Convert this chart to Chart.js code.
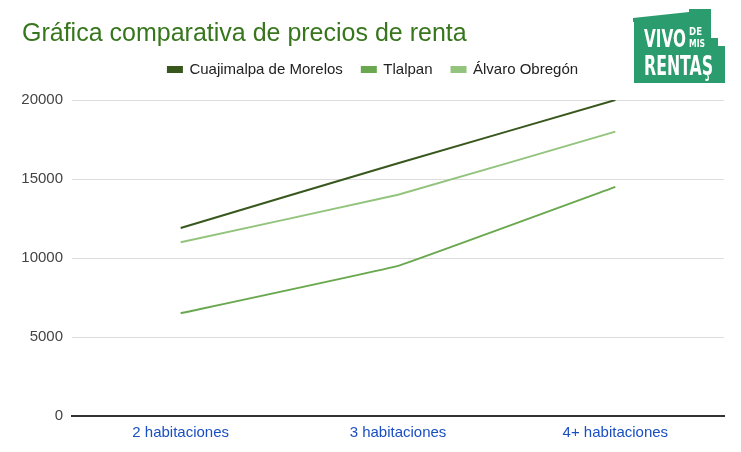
<!DOCTYPE html>
<html lang="es">
<head>
<meta charset="UTF-8">
<title>Gráfica comparativa de precios de renta</title>
<script src="https://cdn.jsdelivr.net/npm/chart.js@4.4.0/dist/chart.umd.min.js"></script>
<style>
  html, body { margin: 0; padding: 0; background: #fff; }
  #wrap { position: relative; width: 741px; height: 452px; }
  #logo { position: absolute; left: 628px; top: 0; }
</style>
</head>
<body>
<div id="wrap">
  <canvas id="grafica" width="741" height="452"></canvas>
  <!-- logo de la esquina -->
  <svg id="logo" width="113" height="95" viewBox="628 0 113 95">
    <path d="M633 18 L689 12 L689 9 L711 9 L711 38 L718 38 L718 46 L725 46 L725 83 L634 83 L634 22 L633 22 Z" fill="#2a9c6e"/>
    <g fill="#fff" font-family="Liberation Sans Narrow, DejaVu Sans Condensed, sans-serif" font-weight="bold">
      <text x="644" y="47" font-size="25" textLength="42" lengthAdjust="spacingAndGlyphs">VIVO</text>
      <text x="689" y="35" font-size="10" textLength="13" lengthAdjust="spacingAndGlyphs">DE</text>
      <text x="689" y="47" font-size="10" textLength="16" lengthAdjust="spacingAndGlyphs">MIS</text>
      <text x="644" y="75" font-size="27" textLength="69" lengthAdjust="spacingAndGlyphs">RENTAŞ</text>
    </g>
  </svg>
</div>
<script>
// datos
const categorias = ['2 habitaciones', '3 habitaciones', '4+ habitaciones'];
const cuajimalpa = [11900, 16000, 20000];
const tlalpan = [6500, 9500, 14500];
const alvaroObregon = [11000, 14000, 18000];
const ticksY = [0, 5000, 10000, 15000, 20000];

const fuente = 'Liberation Sans, Arial, sans-serif';

// deja algo de aire debajo de la leyenda
const espacioLeyenda = {
  id: 'espacioLeyenda',
  afterInit(chart) {
    const fitOriginal = chart.legend.fit;
    chart.legend.fit = function () {
      fitOriginal.call(this);
      this.height += 13;
    };
  }
};

const ctx = document.getElementById('grafica').getContext('2d');
const chart = new Chart(ctx, {
  type: 'line',
  data: {
    labels: categorias,
    datasets: [
      { label: 'Cuajimalpa de Morelos', data: cuajimalpa, borderColor: '#38571d', backgroundColor: '#38571d', borderWidth: 2, pointRadius: 0, tension: 0.05 },
      { label: 'Tlalpan', data: tlalpan, borderColor: '#6aa84f', backgroundColor: '#6aa84f', borderWidth: 2, pointRadius: 0, tension: 0.05 },
      { label: 'Álvaro Obregón', data: alvaroObregon, borderColor: '#93c47d', backgroundColor: '#93c47d', borderWidth: 2, pointRadius: 0, tension: 0.05 }
    ]
  },
  plugins: [espacioLeyenda],
  options: {
    responsive: false,
    animation: false,
    layout: { padding: { left: 22, right: 17, top: 19, bottom: 2 } },
    plugins: {
      title: {
        display: true,
        text: 'Gráfica comparativa de precios de renta',
        align: 'start',
        color: '#38761d',
        font: { family: fuente, size: 25, weight: 'normal' },
        padding: { top: 0, bottom: -6 }
      },
      legend: {
        labels: {
          boxWidth: 14,
          boxHeight: 5,
          color: '#222',
          padding: 19,
          font: { family: fuente, size: 15 }
        }
      },
      tooltip: { enabled: false }
    },
    scales: {
      x: {
        offset: true,
        grid: { display: false, drawTicks: false },
        border: { display: true, color: '#333', width: 2 },
        ticks: { color: '#1a4fc2', padding: 8, font: { family: fuente, size: 15 } }
      },
      y: {
        min: 0,
        max: 20000,
        afterBuildTicks: axis => { axis.ticks = ticksY.map(v => ({ value: v })); },
        afterFit: axis => { axis.width = 50; },
        grid: { color: '#dddddd', drawTicks: false },
        border: { display: false },
        ticks: {
          color: '#444',
          padding: 9,
          font: { family: fuente, size: 15 },
          callback: v => String(v)
        }
      }
    }
  }
});
</script>
</body>
</html>
